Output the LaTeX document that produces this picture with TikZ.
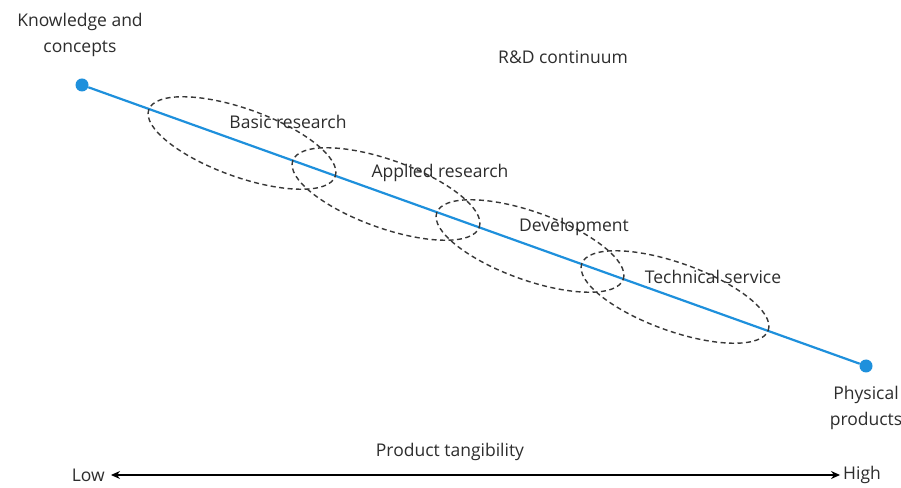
\documentclass[tikz,border=0pt]{standalone}
\usepackage{fontspec}
\setmainfont{Open Sans}
\usetikzlibrary{arrows.meta}
\definecolor{rdblue}{RGB}{30,144,220}
\definecolor{txtgrey}{RGB}{45,45,45}
\definecolor{ringgrey}{RGB}{55,55,55}
\begin{document}
\begin{tikzpicture}[x=1pt,y=1pt,
  lbl/.style={text=txtgrey,font=\fontsize{17.5}{26}\selectfont,inner sep=0pt,align=center},
  endpt/.style={circle,fill=rdblue,inner sep=0pt,minimum size=13pt},
  ring/.style={draw=ringgrey,line width=1.4pt,dash pattern=on 5pt off 3.5pt},
  axis/.style={draw=black,line width=1.2pt,{Stealth[length=9pt,width=8pt]}-{Stealth[length=9pt,width=8pt]}}]
\useasboundingbox[fill=white] (0,0) rectangle (901,487);

% continuum line with its two ends
\node[endpt] (k) at (82,402) {};
\node[endpt] (p) at (866,121) {};
\draw[rdblue,line width=2.2pt] (k) -- (p);

% overlapping stages along the continuum
\draw[ring,rotate around={-19.7:(242,344)}] (242,344) ellipse [x radius=99,y radius=34];
\draw[ring,rotate around={-19.7:(386,293)}] (386,293) ellipse [x radius=99,y radius=34];
\draw[ring,rotate around={-19.7:(530,241)}] (530,241) ellipse [x radius=99,y radius=34];
\draw[ring,rotate around={-19.7:(675,190)}] (675,190) ellipse [x radius=99,y radius=34];

% labels
\node[lbl] (kc) at (80,452) {Knowledge and\\concepts};
\node[lbl] (pp) at (866,79) {Physical\\products};
\node[lbl] (rd) at (563,430) {R\&D continuum};
\node[lbl] (br) at (288,365) {Basic research};
\node[lbl] (ar) at (440,314) {Applied research};
\node[lbl] (dv) at (574,260) {Development};
\node[lbl] (ts) at (713,210) {Technical service};

% tangibility scale
\node[lbl] (pt) at (450,35) {Product tangibility};
\node[lbl,anchor=east] (lo) at (105,12) {Low};
\node[lbl,anchor=west] (hi) at (843,12) {High};
\draw[axis] ([xshift=6pt]lo.east) -- ([xshift=-3pt]hi.west);
\end{tikzpicture}
\end{document}
